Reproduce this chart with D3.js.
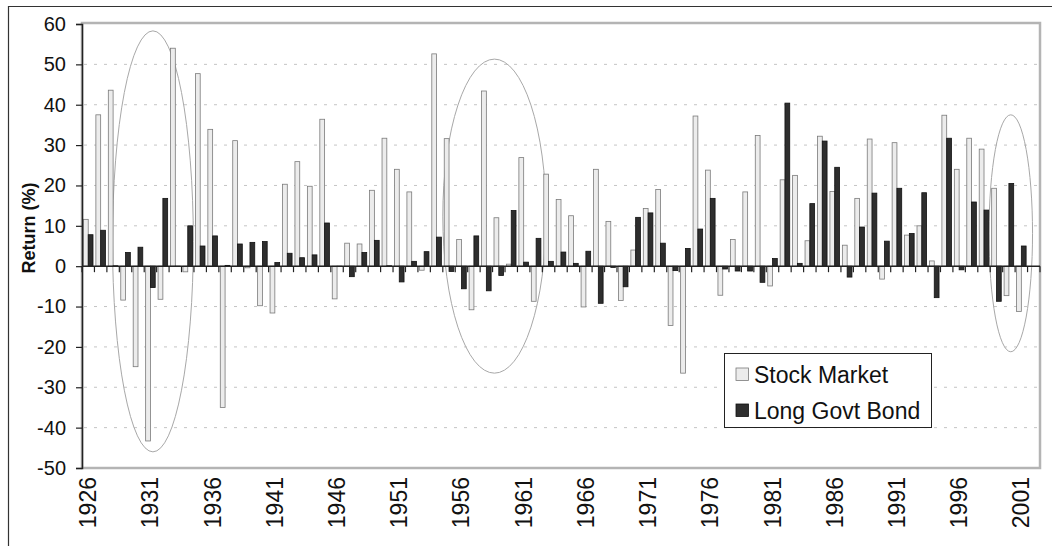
<!DOCTYPE html>
<html>
<head>
<meta charset="utf-8">
<script src="https://cdn.jsdelivr.net/npm/d3@7/dist/d3.min.js"></script>
<style>
  html, body { margin: 0; padding: 0; background: #fff; }
  svg { display: block; font-family: "Liberation Sans", Arial, sans-serif; }
</style>
</head>
<body>
<svg id="chart" width="1052" height="546"></svg>
<script>
// ---- data ----
const years = d3.range(1926, 2003);   // 77 categories, last one empty
const stockMarket = [
  11.6, 37.5, 43.6, -8.4, -24.9, -43.3, -8.2, 54.0, -1.4, 47.7,
  33.9, -35.0, 31.1, -0.4, -9.8, -11.6, 20.3, 25.9, 19.8, 36.4,
  -8.1, 5.7, 5.5, 18.8, 31.7, 24.0, 18.4, -1.0, 52.6, 31.6,
  6.6, -10.8, 43.4, 12.0, 0.5, 26.9, -8.7, 22.8, 16.5, 12.5,
  -10.1, 24.0, 11.1, -8.5, 4.0, 14.3, 19.0, -14.7, -26.5, 37.2,
  23.8, -7.2, 6.6, 18.4, 32.4, -4.9, 21.4, 22.5, 6.3, 32.2,
  18.5, 5.2, 16.8, 31.5, -3.2, 30.6, 7.7, 10.0, 1.3, 37.4,
  24.0, 31.7, 29.0, 19.3, -7.3, -11.2, null
];
const longGovtBond = [
  7.8, 8.9, 0.1, 3.4, 4.7, -5.3, 16.8, -0.1, 10.0, 5.0,
  7.5, 0.2, 5.5, 5.9, 6.1, 0.9, 3.2, 2.1, 2.8, 10.7,
  -0.1, -2.6, 3.4, 6.4, 0.1, -3.9, 1.2, 3.6, 7.2, -1.3,
  -5.6, 7.5, -6.1, -2.3, 13.8, 1.0, 6.9, 1.2, 3.5, 0.7,
  3.7, -9.2, -0.3, -5.1, 12.1, 13.2, 5.7, -1.1, 4.4, 9.2,
  16.8, -0.7, -1.2, -1.2, -4.0, 1.9, 40.4, 0.7, 15.5, 31.0,
  24.5, -2.7, 9.7, 18.1, 6.2, 19.3, 8.1, 18.2, -7.8, 31.7,
  -0.9, 15.9, 13.9, -8.7, 20.5, 5.0, null
];
const yTicks = [60, 50, 40, 30, 20, 10, 0, -10, -20, -30, -40, -50];
const xTickLabels = d3.range(1926, 2002, 5);
const seriesNames = ["Stock Market", "Long Govt Bond"];
// highlighted periods: band-index span and value span
const ovals = [
  { from: 2.45, to: 8.95, top: 58.3, bottom: -46.0 },
  { from: 29.0, to: 37.3, top: 51.3, bottom: -26.5 },
  { from: 72.9, to: 76.4, top: 37.5, bottom: -21.2 }
];

// ---- layout ----
const svg = d3.select("#chart");
const L = 82, R = 1040, T = 24, B = 468;

const x = d3.scaleBand().domain(years).range([L, R]).paddingInner(0).paddingOuter(0);
const xi = d3.scaleLinear().domain([0, years.length]).range([L, R]);
const sub = d3.scaleBand().domain([0, 1]).range([0, x.bandwidth()]).paddingInner(0).paddingOuter(0.3);
const y = d3.scaleLinear().domain([-50, 60]).range([B, T]);

// outer frame (extends beyond the picture at right/bottom)
svg.append("path").attr("d", `M8.5,560 L8.5,6.5 L1060,6.5`)
  .attr("fill", "none").attr("stroke", "#333").attr("stroke-width", 1.2);

// plot area border
svg.append("rect").attr("x", L).attr("y", T - 1).attr("width", R - L).attr("height", B - T + 1)
  .attr("fill", "#fff").attr("stroke", "#b4b4b4").attr("stroke-width", 2.5);

// gridlines
svg.append("g").selectAll("line").data(yTicks.filter(d => d !== 60 && d !== -50 && d !== 0)).join("line")
  .attr("x1", L + 2).attr("x2", R - 2)
  .attr("y1", d => y(d)).attr("y2", d => y(d))
  .attr("stroke", "#c4c4c4").attr("stroke-width", 1).attr("stroke-dasharray", "3,7");

// ovals
svg.append("g").selectAll("ellipse").data(ovals).join("ellipse")
  .attr("cx", d => (xi(d.from) + xi(d.to)) / 2)
  .attr("cy", d => (y(d.top) + y(d.bottom)) / 2)
  .attr("rx", d => (xi(d.to) - xi(d.from)) / 2)
  .attr("ry", d => (y(d.bottom) - y(d.top)) / 2)
  .attr("fill", "none").attr("stroke", "#a8a8a8").attr("stroke-width", 1);

// bars
const rows = years.map((yr, i) => ({ yr, vals: [stockMarket[i], longGovtBond[i]] }));
const fills = ["#ececec", "#2e2e2e"];
const strokes = ["#7a7a7a", "#111"];
const g = svg.append("g");
rows.forEach(r => {
  r.vals.forEach((v, k) => {
    if (v === null) return;
    g.append("rect")
      .attr("x", x(r.yr) + sub(k))
      .attr("width", sub.bandwidth())
      .attr("y", y(Math.max(0, v)))
      .attr("height", Math.abs(y(v) - y(0)))
      .attr("fill", fills[k]).attr("stroke", strokes[k]).attr("stroke-width", 0.8);
  });
});

// zero line with category ticks
svg.append("line").attr("x1", L).attr("x2", R).attr("y1", y(0)).attr("y2", y(0))
  .attr("stroke", "#222").attr("stroke-width", 1.5);
svg.append("g").selectAll("line").data(d3.range(years.length + 1)).join("line")
  .attr("x1", d => xi(d)).attr("x2", d => xi(d))
  .attr("y1", y(0)).attr("y2", y(0) + 6)
  .attr("stroke", "#222").attr("stroke-width", 1.2);

// y axis
const yAxis = d3.axisLeft(y).tickValues(yTicks).tickSize(6).tickPadding(10).tickFormat(d => String(d));
const ya = svg.append("g").attr("transform", `translate(${L},0)`).call(yAxis);
ya.select(".domain").attr("stroke", "#222").attr("stroke-width", 1.5);
ya.selectAll(".tick line").attr("stroke", "#222").attr("stroke-width", 1.2);
ya.selectAll("text").attr("font-size", 20).attr("fill", "#111")
  .attr("font-family", "'Liberation Sans', Arial, sans-serif");

// x labels (at bottom)
svg.append("g").selectAll("text").data(xTickLabels).join("text")
  .attr("transform", d => `translate(${x(d) + x.bandwidth() / 2},477) rotate(-90)`)
  .attr("text-anchor", "end").attr("dominant-baseline", "central")
  .attr("font-size", 23).attr("fill", "#111")
  .text(d => d);

// y title
svg.append("text").attr("transform", `translate(29,228) rotate(-90)`)
  .attr("text-anchor", "middle").attr("dominant-baseline", "central")
  .attr("font-size", 18).attr("font-weight", "bold").attr("fill", "#111")
  .text("Return (%)");

// legend
const lg = svg.append("g");
lg.append("rect").attr("x", 724.5).attr("y", 353.5).attr("width", 207).attr("height", 74)
  .attr("fill", "#fff").attr("stroke", "#222").attr("stroke-width", 1);
seriesNames.forEach((name, k) => {
  const cy = 374 + k * 36;
  lg.append("rect").attr("x", 736).attr("y", cy - 6).attr("width", 12.5).attr("height", 12.5)
    .attr("fill", fills[k]).attr("stroke", strokes[k]).attr("stroke-width", 0.8);
  lg.append("text").attr("x", 754).attr("y", cy + 1).attr("dominant-baseline", "central")
    .attr("font-size", 23).attr("fill", "#111").text(name);
});
</script>
</body>
</html>
